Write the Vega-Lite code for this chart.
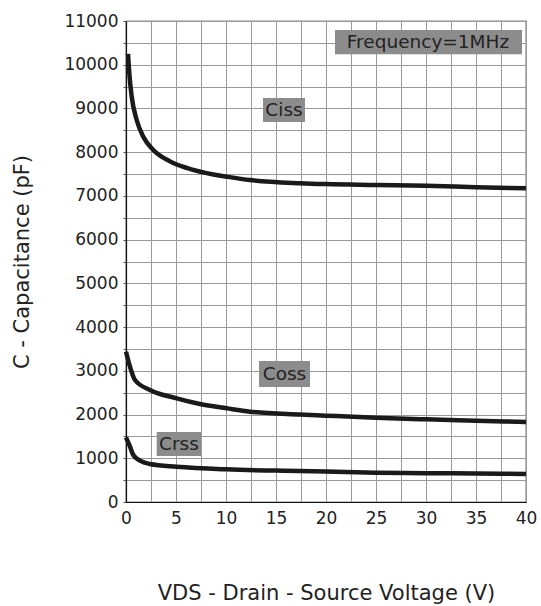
{
  "$schema": "https://vega.github.io/schema/vega-lite/v6.json",
  "width": 400,
  "height": 481,
  "autosize": "none",
  "padding": {"left": 126, "top": 21, "right": 15, "bottom": 104},
  "background": "white",
  "config": {
    "font": "DejaVu Sans",
    "view": {"stroke": "#111", "strokeWidth": 1.2},
    "axis": {
      "domainColor": "#111",
      "domainWidth": 1.2,
      "gridColor": "#9a9a9a",
      "gridWidth": 1,
      "gridOpacity": 1,
      "tickColor": "#555",
      "labelColor": "#222",
      "titleColor": "#222",
      "labelFont": "DejaVu Sans",
      "titleFont": "DejaVu Sans",
      "labelFontSize": 17,
      "labelFlush": false,
      "titleFontWeight": "normal",
      "titleFontSize": 21
    }
  },
  "datasets": {
    "curves": [
      {"v": 0.2, "c": 10250, "s": "Ciss"},
      {"v": 0.33, "c": 9800, "s": "Ciss"},
      {"v": 0.57, "c": 9270, "s": "Ciss"},
      {"v": 1.07, "c": 8735, "s": "Ciss"},
      {"v": 1.73, "c": 8353, "s": "Ciss"},
      {"v": 2.73, "c": 8050, "s": "Ciss"},
      {"v": 4.4, "c": 7790, "s": "Ciss"},
      {"v": 6.07, "c": 7640, "s": "Ciss"},
      {"v": 8.73, "c": 7490, "s": "Ciss"},
      {"v": 10.07, "c": 7440, "s": "Ciss"},
      {"v": 12.4, "c": 7363, "s": "Ciss"},
      {"v": 17.4, "c": 7290, "s": "Ciss"},
      {"v": 20, "c": 7270, "s": "Ciss"},
      {"v": 25, "c": 7250, "s": "Ciss"},
      {"v": 30, "c": 7230, "s": "Ciss"},
      {"v": 35, "c": 7200, "s": "Ciss"},
      {"v": 40, "c": 7175, "s": "Ciss"},
      {"v": 0, "c": 3437, "s": "Coss"},
      {"v": 0.4, "c": 3094, "s": "Coss"},
      {"v": 0.9, "c": 2790, "s": "Coss"},
      {"v": 2.4, "c": 2561, "s": "Coss"},
      {"v": 5.07, "c": 2371, "s": "Coss"},
      {"v": 7.4, "c": 2241, "s": "Coss"},
      {"v": 10.07, "c": 2143, "s": "Coss"},
      {"v": 12.4, "c": 2065, "s": "Coss"},
      {"v": 17.4, "c": 2000, "s": "Coss"},
      {"v": 20, "c": 1975, "s": "Coss"},
      {"v": 25, "c": 1928, "s": "Coss"},
      {"v": 30, "c": 1891, "s": "Coss"},
      {"v": 35, "c": 1860, "s": "Coss"},
      {"v": 40, "c": 1830, "s": "Coss"},
      {"v": 0, "c": 1479, "s": "Crss"},
      {"v": 0.4, "c": 1265, "s": "Crss"},
      {"v": 0.73, "c": 1075, "s": "Crss"},
      {"v": 1.4, "c": 945, "s": "Crss"},
      {"v": 2.4, "c": 869, "s": "Crss"},
      {"v": 5.07, "c": 808, "s": "Crss"},
      {"v": 10.07, "c": 747, "s": "Crss"},
      {"v": 17.4, "c": 709, "s": "Crss"},
      {"v": 25, "c": 671, "s": "Crss"},
      {"v": 30, "c": 660, "s": "Crss"},
      {"v": 35, "c": 650, "s": "Crss"},
      {"v": 40, "c": 640, "s": "Crss"}
    ],
    "labels": [
      {"label": "Ciss", "x": 15.8, "y": 8964, "x1": 13.7, "x2": 17.9, "y1": 8690, "y2": 9238},
      {"label": "Coss", "x": 15.85, "y": 2927, "x1": 13.3, "x2": 18.4, "y1": 2630, "y2": 3224},
      {"label": "Crss", "x": 5.3, "y": 1326, "x1": 3.07, "x2": 7.5, "y1": 1052, "y2": 1601},
      {"label": "Frequency=1MHz", "x": 30.2, "y": 10519, "x1": 20.9, "x2": 39.6, "y1": 10238, "y2": 10793}
    ]
  },
  "layer": [
    {
      "data": {"name": "labels"},
      "mark": {"type": "rect", "color": "#8c8c8c"},
      "encoding": {
        "x": {
          "field": "x1", "type": "quantitative",
          "scale": {"domain": [0, 40], "nice": false},
          "axis": {
            "values": [0, 2.5, 5, 7.5, 10, 12.5, 15, 17.5, 20, 22.5, 25, 27.5, 30, 32.5, 35, 37.5, 40],
            "labelExpr": "datum.value % 5 === 0 ? datum.label : ''",
            "tickSize": 0,
            "labelPadding": 8,
            "title": "VDS - Drain - Source Voltage (V)",
            "titlePadding": 56
          }
        },
        "x2": {"field": "x2"},
        "y": {
          "field": "y1", "type": "quantitative",
          "scale": {"domain": [0, 11000], "nice": false},
          "axis": {
            "values": [0, 500, 1000, 1500, 2000, 2500, 3000, 3500, 4000, 4500, 5000, 5500, 6000, 6500, 7000, 7500, 8000, 8500, 9000, 9500, 10000, 10500, 11000],
            "labelExpr": "datum.value % 1000 === 0 ? datum.label : ''",
            "format": "d",
            "tickSize": 3,
            "labelPadding": 5,
            "title": "C - Capacitance (pF)",
            "titlePadding": 31
          }
        },
        "y2": {"field": "y2"}
      }
    },
    {
      "data": {"name": "labels"},
      "mark": {"type": "text", "color": "#222", "fontSize": 18.5, "baseline": "middle", "align": "center", "font": "DejaVu Sans"},
      "encoding": {
        "x": {
          "field": "x", "type": "quantitative",
          "scale": {"domain": [0, 40], "nice": false},
          "axis": {
            "values": [0, 2.5, 5, 7.5, 10, 12.5, 15, 17.5, 20, 22.5, 25, 27.5, 30, 32.5, 35, 37.5, 40],
            "labelExpr": "datum.value % 5 === 0 ? datum.label : ''",
            "tickSize": 0,
            "labelPadding": 8,
            "title": "VDS - Drain - Source Voltage (V)",
            "titlePadding": 56
          }
        },
        "y": {
          "field": "y", "type": "quantitative",
          "scale": {"domain": [0, 11000], "nice": false},
          "axis": {
            "values": [0, 500, 1000, 1500, 2000, 2500, 3000, 3500, 4000, 4500, 5000, 5500, 6000, 6500, 7000, 7500, 8000, 8500, 9000, 9500, 10000, 10500, 11000],
            "labelExpr": "datum.value % 1000 === 0 ? datum.label : ''",
            "format": "d",
            "tickSize": 3,
            "labelPadding": 5,
            "title": "C - Capacitance (pF)",
            "titlePadding": 31
          }
        },
        "text": {"field": "label"}
      }
    },
    {
      "data": {"name": "curves"},
      "mark": {"type": "line", "color": "#1a1a1a", "strokeWidth": 4.5, "interpolate": "monotone"},
      "encoding": {
        "x": {
          "field": "v", "type": "quantitative",
          "scale": {"domain": [0, 40], "nice": false},
          "axis": {
            "values": [0, 2.5, 5, 7.5, 10, 12.5, 15, 17.5, 20, 22.5, 25, 27.5, 30, 32.5, 35, 37.5, 40],
            "labelExpr": "datum.value % 5 === 0 ? datum.label : ''",
            "tickSize": 0,
            "labelPadding": 8,
            "title": "VDS - Drain - Source Voltage (V)",
            "titlePadding": 56
          }
        },
        "y": {
          "field": "c", "type": "quantitative",
          "scale": {"domain": [0, 11000], "nice": false},
          "axis": {
            "values": [0, 500, 1000, 1500, 2000, 2500, 3000, 3500, 4000, 4500, 5000, 5500, 6000, 6500, 7000, 7500, 8000, 8500, 9000, 9500, 10000, 10500, 11000],
            "labelExpr": "datum.value % 1000 === 0 ? datum.label : ''",
            "format": "d",
            "tickSize": 3,
            "labelPadding": 5,
            "title": "C - Capacitance (pF)",
            "titlePadding": 31
          }
        },
        "detail": {"field": "s"}
      }
    }
  ]
}
